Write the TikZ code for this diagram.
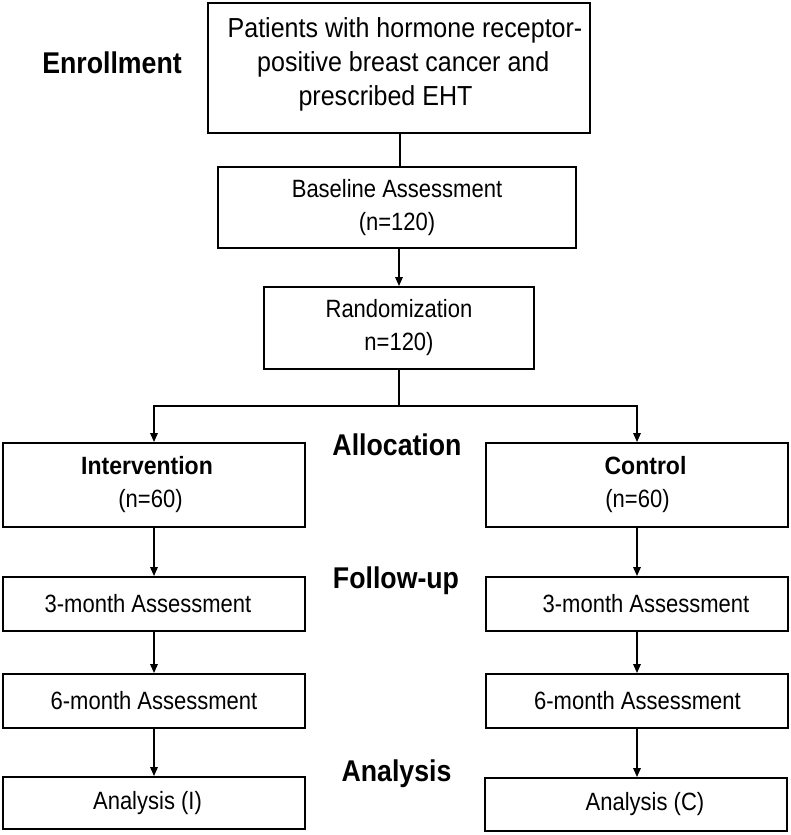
\documentclass[tikz,border=0pt]{standalone}
\usepackage{fontspec}
\setmainfont{Liberation Sans}[FakeStretch=0.88]
\newfontfamily\topfont{Liberation Sans}[FakeStretch=0.91]
\newfontfamily\headfont{Liberation Sans}[FakeStretch=0.89]
\newfontfamily\grpfont{Liberation Sans}[FakeStretch=0.92]
\usetikzlibrary{arrows.meta}
\newcommand\shiftline[2]{\hspace*{#1pt}#2\hspace*{-#1pt}}
\begin{document}
\begin{tikzpicture}[x=1pt,y=-1pt,
  box/.style={draw,line width=1.9pt,inner sep=0pt,align=center,font=\fontsize{25}{33}\selectfont},
  colbox/.style={box,minimum width=302pt,minimum height=54pt},
  conn/.style={line width=1.7pt},
  arr/.style={conn,-{Triangle[length=9pt,width=7.5pt]}},
  head/.style={font=\headfont\bfseries\fontsize{30}{36}\selectfont,anchor=base,inner sep=0pt},
  txt/.style={align=center,inner sep=0pt}]
\useasboundingbox (0,0) rectangle (791,835);
\fill[white] (0,0) rectangle (791,835);

% headings
\node[head] (henr) at (112,73) {Enrollment};
\node[head] (halloc) at (397,455) {Allocation};
\node[head] (hfol) at (396,588) {Follow-up};
\node[head] (hana) at (396.5,781) {Analysis};

% top part
\node[box,minimum width=382pt,minimum height=130pt] (top) at (399,68) {};
\node[txt,font=\topfont\fontsize{27.5}{34}\selectfont] (toptext) at (399,64)
  {\shiftline{6}{Patients with hormone receptor-}\\ \shiftline{8.5}{positive breast cancer and}\\ \shiftline{-13.5}{prescribed EHT}};
\node[box,minimum width=358pt,minimum height=81pt] (base) at (397,207.5)
  {Baseline Assessment\\(n=120)};
\node[box,minimum width=270pt,minimum height=82pt] (rand) at (399,328)
  {Randomization\\n=120)};

% groups
\node[box,minimum width=302pt,minimum height=84pt] (int) at (154,485)
  {\shiftline{-7}{{\grpfont\bfseries\fontsize{25}{33}\selectfont Intervention}}\\ \shiftline{-3.5}{(n=60)}};
\node[box,minimum width=302pt,minimum height=84pt] (ctl) at (637,485)
  {\shiftline{8.5}{{\grpfont\bfseries\fontsize{25}{33}\selectfont Control}}\\ \shiftline{0.5}{(n=60)}};

\node[colbox] (l3) at (154,604) {\shiftline{-6}{3-month Assessment}};
\node[colbox] (r3) at (637,604) {\shiftline{9}{3-month Assessment}};
\node[colbox] (l6) at (154,701) {6-month Assessment};
\node[colbox] (r6) at (637,701) {\shiftline{0.5}{6-month Assessment}};
\node[colbox,minimum height=52pt] (la) at (154,803) {\shiftline{-6.5}{Analysis (I)}};
\node[colbox,minimum height=53pt] (ra) at (636,804.5) {\shiftline{9}{Analysis (C)}};

% connectors
\coordinate (split) at (399,406);
\draw[conn] (top.south -| 400,0) -- (400,167);
\draw[arr] (base.south -| rand.north) -- (rand.north);
\draw[conn] (rand.south) -- (split);
\draw[arr] (split) -| (int.north);
\draw[arr] (split) -| (ctl.north);
\draw[arr] (int.south) -- (l3.north);
\draw[arr] (ctl.south) -- (r3.north);
\draw[arr] (l3.south) -- (l6.north);
\draw[arr] (r3.south) -- (r6.north);
\draw[arr] (l6.south) -- (la.north);
\draw[arr] (r6.south) -- (r6.south |- ra.north);
\end{tikzpicture}
\end{document}
